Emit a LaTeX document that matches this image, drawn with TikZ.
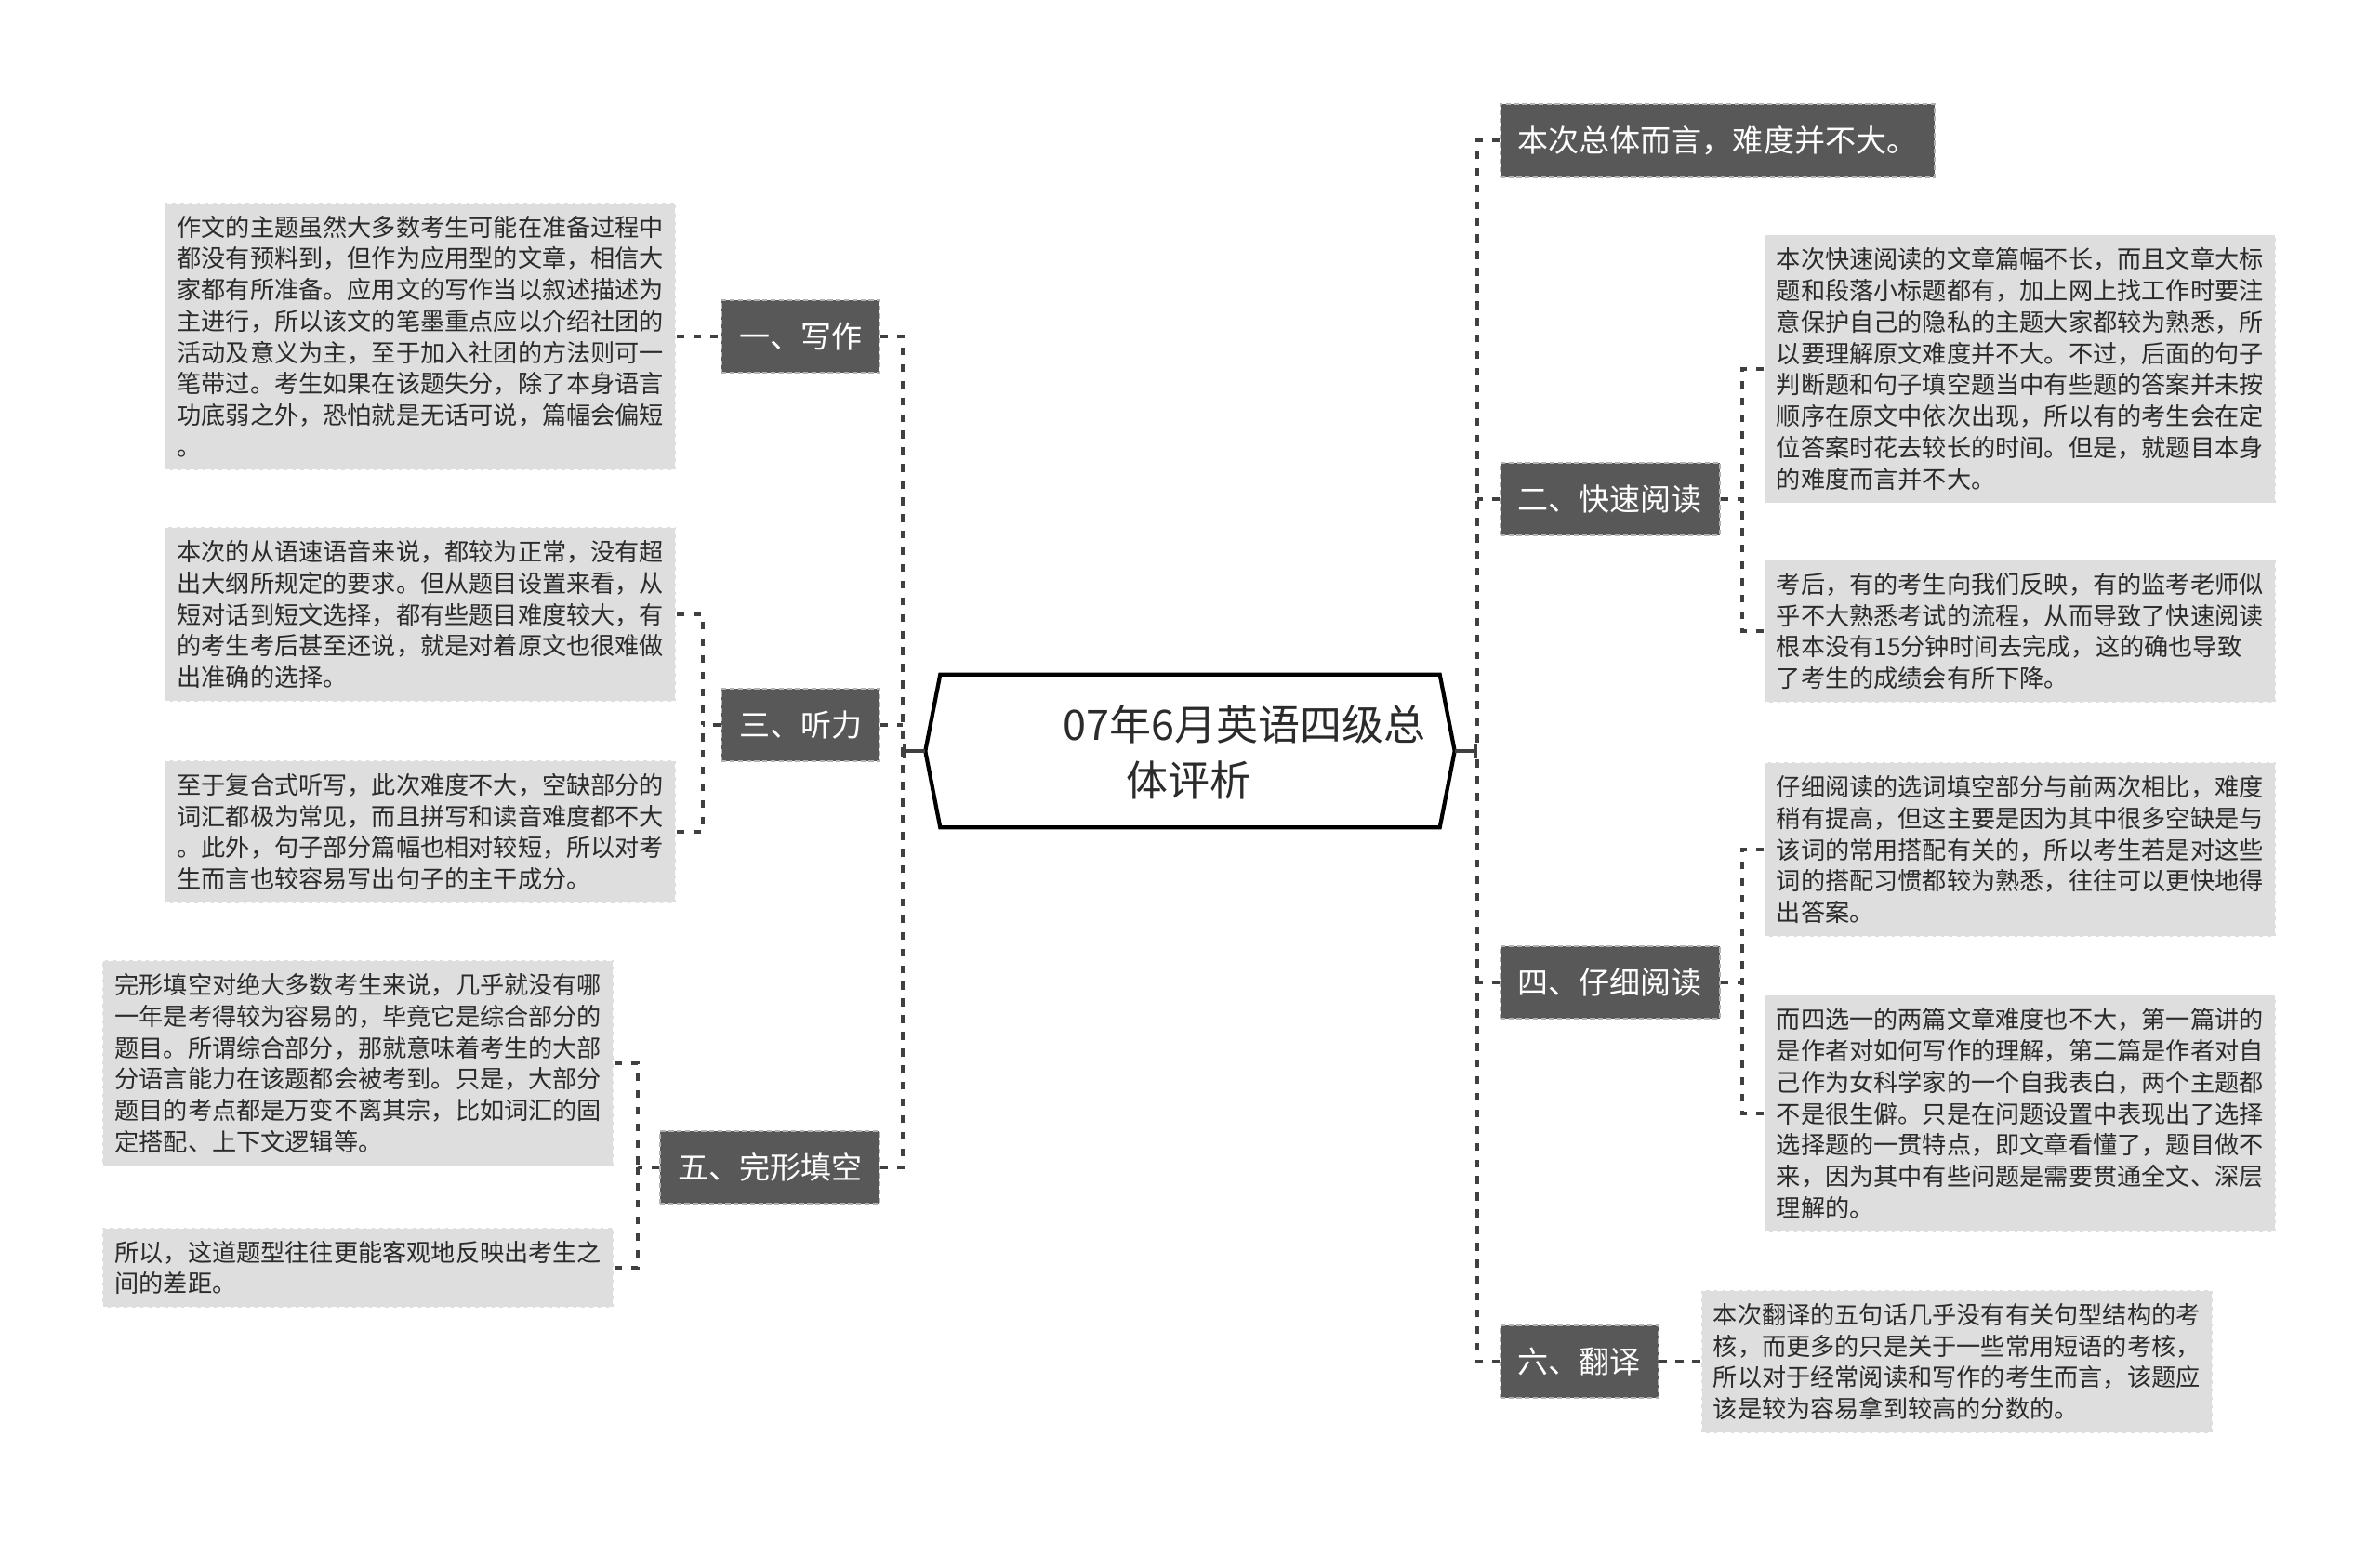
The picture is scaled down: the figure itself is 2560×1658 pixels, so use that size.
\documentclass[tikz,border=0pt]{standalone}
\usepackage{fontspec}
\setmainfont{Noto Sans CJK SC}
\usepackage{xcolor}
\usetikzlibrary{calc, arrows.meta}

\definecolor{boxdark}{HTML}{585858}
\definecolor{boxlight}{HTML}{DEDEDE}
\definecolor{linegray}{HTML}{404040}
\definecolor{textdark}{HTML}{2B2B2B}

\begin{document}
\begin{tikzpicture}[x=0.1mm, y=-0.1mm,
    hexbox/.style={rectangle, minimum width=56.8mm, minimum height=16.3mm, inner sep=0pt},
    titletxt/.style={font=\fontsize{12.8}{17}\selectfont, text=textdark, align=left, inner sep=0pt},
    branch/.style={rectangle, fill=boxdark, draw=gray!60, dash pattern=on 1.5pt off 1pt, line width=0.4pt,
        text=white, font=\fontsize{9.4}{11}\selectfont, minimum height=7.8mm, inner xsep=1.9mm, inner ysep=0pt},
    desc/.style={rectangle, fill=boxlight, draw=white, dash pattern=on 1.5pt off 1pt, line width=0.5pt,
        text=textdark, font=\fontsize{7.45}{9.6}\selectfont, align=left, inner xsep=1.3mm, inner ysep=1.4mm},
    link/.style={draw=linegray, line width=0.95pt, dash pattern=on 2.4pt off 2.7pt},
    stem/.style={draw=linegray, line width=1pt, -{Bar[width=4.8pt]}}]

    \useasboundingbox (0,0) rectangle (2560,1658);

    % =================================================================
    % 1. 中心主题（六边形）
    % =================================================================
    \node[hexbox] (title) at (1280,808) {};
    \draw[line width=1.2pt, fill=white] (title.west) -- ($(title.north west)+(16,0)$)
        -- ($(title.north east)+(-16,0)$) -- (title.east)
        -- ($(title.south east)+(-16,0)$) -- ($(title.south west)+(16,0)$) -- cycle;
    \node[titletxt, anchor=west] (titletext) at (1143,809) {07年6月英语四级总\\\hspace*{6.8mm}体评析};

    % 左右两条主干
    \coordinate (ltrunk) at (971,808);
    \coordinate (rtrunk) at (1589,808);

    % =================================================================
    % 2. 一级分支（深灰色方框）
    % =================================================================
    \node[branch, anchor=east] (b1) at (947,362) {一、写作};
    \node[branch, anchor=east] (b3) at (947,780) {三、听力};
    \node[branch, anchor=east] (b5) at (947,1256) {五、完形填空};

    \node[branch, anchor=west] (b0) at (1613,151) {本次总体而言，难度并不大。};
    \node[branch, anchor=west] (b2) at (1613,537) {二、快速阅读};
    \node[branch, anchor=west] (b4) at (1613,1057) {四、仔细阅读};
    \node[branch, anchor=west] (b6) at (1613,1465) {六、翻译};

    % 子主干位置
    \coordinate (s3) at (756,780);
    \coordinate (s5) at (686,1256);
    \coordinate (s2) at (1874,537);
    \coordinate (s4) at (1874,1057);

    % =================================================================
    % 3. 说明文字（浅灰色方框）
    % =================================================================
    % --- 左侧 ---
    \node[desc, anchor=east] (d1) at (728,362) {作文的主题虽然大多数考生可能在准备过程中\\
        都没有预料到，但作为应用型的文章，相信大\\
        家都有所准备。应用文的写作当以叙述描述为\\
        主进行，所以该文的笔墨重点应以介绍社团的\\
        活动及意义为主，至于加入社团的方法则可一\\
        笔带过。考生如果在该题失分，除了本身语言\\
        功底弱之外，恐怕就是无话可说，篇幅会偏短\\
        。};
    \node[desc, anchor=east] (d3a) at (728,661) {本次的从语速语音来说，都较为正常，没有超\\
        出大纲所规定的要求。但从题目设置来看，从\\
        短对话到短文选择，都有些题目难度较大，有\\
        的考生考后甚至还说，就是对着原文也很难做\\
        出准确的选择。};
    \node[desc, anchor=east] (d3b) at (728,895) {至于复合式听写，此次难度不大，空缺部分的\\
        词汇都极为常见，而且拼写和读音难度都不大\\
        。此外，句子部分篇幅也相对较短，所以对考\\
        生而言也较容易写出句子的主干成分。};
    \node[desc, anchor=east] (d5a) at (661,1144) {完形填空对绝大多数考生来说，几乎就没有哪\\
        一年是考得较为容易的，毕竟它是综合部分的\\
        题目。所谓综合部分，那就意味着考生的大部\\
        分语言能力在该题都会被考到。只是，大部分\\
        题目的考点都是万变不离其宗，比如词汇的固\\
        定搭配、上下文逻辑等。};
    \node[desc, anchor=east] (d5b) at (661,1364) {所以，这道题型往往更能客观地反映出考生之\\
        间的差距。};

    % --- 右侧 ---
    \node[desc, anchor=west] (d2a) at (1897,397) {本次快速阅读的文章篇幅不长，而且文章大标\\
        题和段落小标题都有，加上网上找工作时要注\\
        意保护自己的隐私的主题大家都较为熟悉，所\\
        以要理解原文难度并不大。不过，后面的句子\\
        判断题和句子填空题当中有些题的答案并未按\\
        顺序在原文中依次出现，所以有的考生会在定\\
        位答案时花去较长的时间。但是，就题目本身\\
        的难度而言并不大。};
    \node[desc, anchor=west] (d2b) at (1897,679) {考后，有的考生向我们反映，有的监考老师似\\
        乎不大熟悉考试的流程，从而导致了快速阅读\\
        根本没有15分钟时间去完成，这的确也导致\\
        了考生的成绩会有所下降。};
    \node[desc, anchor=west] (d4a) at (1897,914) {仔细阅读的选词填空部分与前两次相比，难度\\
        稍有提高，但这主要是因为其中很多空缺是与\\
        该词的常用搭配有关的，所以考生若是对这些\\
        词的搭配习惯都较为熟悉，往往可以更快地得\\
        出答案。};
    \node[desc, anchor=west] (d4b) at (1897,1198) {而四选一的两篇文章难度也不大，第一篇讲的\\
        是作者对如何写作的理解，第二篇是作者对自\\
        己作为女科学家的一个自我表白，两个主题都\\
        不是很生僻。只是在问题设置中表现出了选择\\
        选择题的一贯特点，即文章看懂了，题目做不\\
        来，因为其中有些问题是需要贯通全文、深层\\
        理解的。};
    \node[desc, anchor=west] (d6) at (1829,1465) {本次翻译的五句话几乎没有有关句型结构的考\\
        核，而更多的只是关于一些常用短语的考核，\\
        所以对于经常阅读和写作的考生而言，该题应\\
        该是较为容易拿到较高的分数的。};

    % =================================================================
    % 4. 连接线
    % =================================================================
    % 中心到主干
    \draw[stem] (title.west) -- (ltrunk);
    \draw[stem] (title.east) -- (rtrunk);

    % 左侧主干与分支
    \draw[link] (b1.east) -| (ltrunk);
    \draw[link] (b5.east) -| (ltrunk);
    \draw[link] (b3.east) -- (b3.east -| ltrunk);

    % 右侧主干与分支
    \draw[link] (b0.west) -| (rtrunk);
    \draw[link] (b6.west) -| (rtrunk);
    \draw[link] (b2.west) -- (b2.west -| rtrunk);
    \draw[link] (b4.west) -- (b4.west -| rtrunk);

    % 分支到说明文字
    \draw[link] (d1.east) -- (b1.west);
    \draw[link] (b3.west) -- (s3);
    \draw[link] (d3a.east) -| (s3);
    \draw[link] (d3b.east) -| (s3);
    \draw[link] (b5.west) -- (s5);
    \draw[link] (d5a.east) -| (s5);
    \draw[link] (d5b.east) -| (s5);
    \draw[link] (b2.east) -- (s2);
    \draw[link] (d2a.west) -| (s2);
    \draw[link] (d2b.west) -| (s2);
    \draw[link] (b4.east) -- (s4);
    \draw[link] (d4a.west) -| (s4);
    \draw[link] (d4b.west) -| (s4);
    \draw[link] (b6.east) -- (d6.west);

\end{tikzpicture}
\end{document}
